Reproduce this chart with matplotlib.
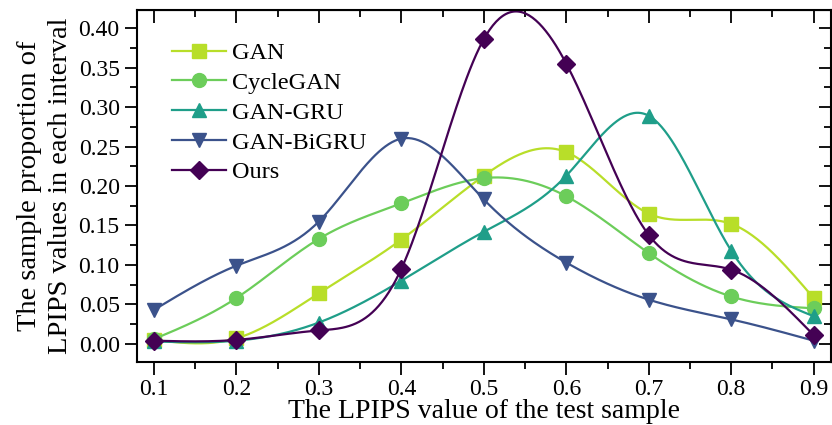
import numpy as np
import matplotlib
matplotlib.use('Agg')
import matplotlib.pyplot as plt
from matplotlib.ticker import MultipleLocator, FormatStrFormatter

plt.rcParams['font.family'] = ['Liberation Serif', 'DejaVu Serif']
plt.rcParams['mathtext.fontset'] = 'stix'

x = [0.1, 0.2, 0.3, 0.4, 0.5, 0.6, 0.7, 0.8, 0.9]
gan = [0.005, 0.007, 0.064, 0.132, 0.213, 0.243, 0.165, 0.152, 0.058]
cyclegan = [0.006, 0.058, 0.133, 0.178, 0.210, 0.187, 0.115, 0.060, 0.045]
gan_gru = [0.003, 0.004, 0.027, 0.080, 0.142, 0.213, 0.289, 0.118, 0.035]
gan_bigru = [0.043, 0.099, 0.155, 0.260, 0.183, 0.103, 0.056, 0.031, 0.004]
ours = [0.004, 0.005, 0.017, 0.095, 0.386, 0.355, 0.138, 0.094, 0.011]

names = ['GAN', 'CycleGAN', 'GAN-GRU', 'GAN-BiGRU', 'Ours']
series = [gan, cyclegan, gan_gru, gan_bigru, ours]
colors = ['#b8de29', '#6ccd5a', '#1f9e89', '#3b528b', '#440154']
markers = ['s', 'o', '^', 'v', 'D']
msizes = [9.5, 10, 10.5, 10.5, 9]


def natural_spline(xs, ys, xn):
    # natural cubic spline, just for drawing smooth connecting lines
    xs = np.asarray(xs, float)
    ys = np.asarray(ys, float)
    n = len(xs)
    h = np.diff(xs)
    A = np.zeros((n, n))
    b = np.zeros(n)
    A[0, 0] = 1
    A[-1, -1] = 1
    for i in range(1, n - 1):
        A[i, i - 1] = h[i - 1]
        A[i, i] = 2 * (h[i - 1] + h[i])
        A[i, i + 1] = h[i]
        b[i] = 3 * ((ys[i + 1] - ys[i]) / h[i] - (ys[i] - ys[i - 1]) / h[i - 1])
    c = np.linalg.solve(A, b)
    out = np.empty_like(xn)
    for k, xv in enumerate(xn):
        i = min(max(np.searchsorted(xs, xv) - 1, 0), n - 2)
        d = xv - xs[i]
        bi = (ys[i + 1] - ys[i]) / h[i] - h[i] * (2 * c[i] + c[i + 1]) / 3
        di = (c[i + 1] - c[i]) / (3 * h[i])
        out[k] = ys[i] + bi * d + c[i] * d ** 2 + di * d ** 3
    return out


fig = plt.figure(figsize=(8.32, 4.25), dpi=100)
ax = fig.add_axes([137 / 832, 1 - 362 / 425, (831 - 137) / 832, (362 - 10) / 425])

xs = np.linspace(x[0], x[-1], 400)
for name, ys, col, mk, ms in zip(names, series, colors, markers, msizes):
    ax.plot(xs, natural_spline(x, ys, xs), color=col, lw=1.6)
    ax.plot(x, ys, ls='none', marker=mk, color=col, ms=ms)
    ax.plot([], [], color=col, lw=1.6, marker=mk, ms=ms, label=name)

ax.set_xlim(0.0795, 0.921)
ax.set_ylim(-0.023, 0.423)
ax.xaxis.set_major_locator(MultipleLocator(0.1))
ax.xaxis.set_minor_locator(MultipleLocator(0.05))
ax.yaxis.set_major_locator(MultipleLocator(0.05))
ax.yaxis.set_minor_locator(MultipleLocator(0.025))
ax.xaxis.set_major_formatter(FormatStrFormatter('%.1f'))
ax.yaxis.set_major_formatter(FormatStrFormatter('%.2f'))
ax.tick_params(which='major', direction='out', length=9, width=1.3, labelsize=17)
ax.tick_params(which='minor', direction='out', length=5, width=1.3)
for s in ax.spines.values():
    s.set_linewidth(1.5)

top = ax.secondary_xaxis('top')
top.xaxis.set_major_locator(MultipleLocator(0.1))
top.xaxis.set_minor_locator(MultipleLocator(0.05))
top.tick_params(which='major', direction='in', length=9, width=1.3, labeltop=False)
top.tick_params(which='minor', direction='in', length=5, width=1.3)
right = ax.secondary_yaxis('right')
right.yaxis.set_major_locator(MultipleLocator(0.05))
right.yaxis.set_minor_locator(MultipleLocator(0.025))
right.tick_params(which='major', direction='in', length=9, width=1.3, labelright=False)
right.tick_params(which='minor', direction='in', length=5, width=1.3)

ax.set_xlabel('The LPIPS value of the test sample', fontsize=20, labelpad=-1)
ax.set_ylabel('The sample proportion of\nLPIPS values in each interval', fontsize=20.5,
              linespacing=1.3, labelpad=4)

ax.legend(loc='upper left', bbox_to_anchor=(0.03, 0.95), frameon=False, fontsize=17.5,
          handlelength=2.2, labelspacing=0.32, handletextpad=0.25, borderaxespad=0.2)

fig.savefig('out.png', dpi=100)
